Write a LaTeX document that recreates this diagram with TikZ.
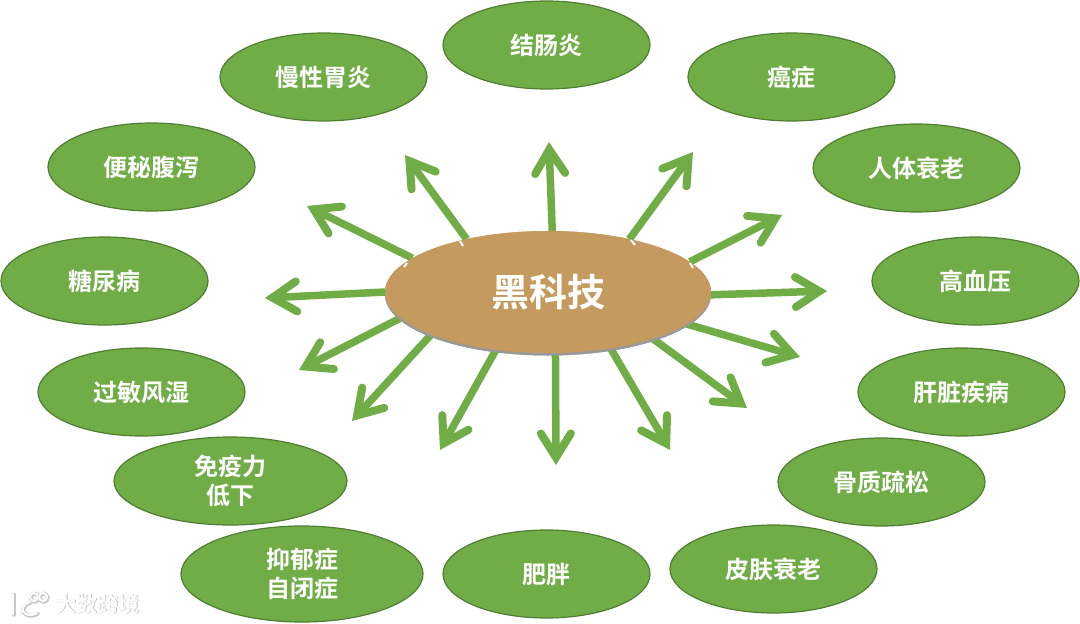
\documentclass[tikz,border=0pt]{standalone}
\usepackage{fontspec}
\setmainfont{Noto Sans CJK SC}[BoldFont={* Bold}]
\newfontfamily\cjkb{Noto Sans CJK SC Bold}
\usetikzlibrary{shapes.geometric,arrows.meta,shadows}
\definecolor{leaf}{HTML}{70AD47}
\definecolor{leafedge}{HTML}{507E32}
\definecolor{hubfill}{HTML}{C49A5F}
\tikzset{
  topic/.style={ellipse,draw=leafedge,line width=1.2pt,fill=leaf,inner sep=0pt,outer sep=0pt,
    minimum width=207pt,minimum height=88pt,text=white,font=\cjkb\fontsize{24}{29}\selectfont,align=center},
  hubnode/.style={ellipse,fill=hubfill,inner sep=0pt,outer sep=0pt,minimum width=326pt,minimum height=122pt,
    text=white,font=\cjkb\fontsize{38}{44}\selectfont,
    general shadow={shadow xshift=0pt,shadow yshift=-2.5pt,fill=black!40}},
  ray/.style={draw=leaf,line width=7.5pt,-{Straight Barb[length=24pt,width=30pt,line width=8pt,line cap=round,line join=miter]}},
  notch/.style={draw=white,line width=2pt},
  wmline/.style={line cap=round}
}
\begin{document}
\begin{tikzpicture}[x=1pt,y=-1pt]
\useasboundingbox (0,0) rectangle (1080,624);
\fill[white] (0,0) rectangle (1080,624);
\coordinate (t1) at (549,142);
\coordinate (t2) at (405,155);
\coordinate (t3) at (693,152);
\coordinate (t4) at (782,215);
\coordinate (t5) at (827,291);
\coordinate (t6) at (800,357);
\coordinate (t7) at (747,408);
\coordinate (t8) at (670,450);
\coordinate (t9) at (556,465);
\coordinate (t10) at (440,450);
\coordinate (t11) at (352,421);
\coordinate (t12) at (299,370);
\coordinate (t13) at (265,298);
\coordinate (t14) at (307,206);
\node[hubnode] (hub) at (548,292) {};
\draw[ray] (hub.86) -- (t1);
\draw[ray] (hub.147.6) -- (t2);
\draw[ray] (hub.33.5) -- (t3);
\draw[ray] (hub.12) -- (t4);
\draw[ray] (hub.-1) -- (t5);
\draw[ray] (hub.-13) -- (t6);
\draw[ray] (hub.-24.4) -- (t7);
\draw[ray] (hub.-42) -- (t8);
\draw[ray] (hub.-83) -- (t9);
\draw[ray] (hub.-132) -- (t10);
\draw[ray] (hub.-160.3) -- (t11);
\draw[ray] (hub.-170) -- (t12);
\draw[ray] (hub.180) -- (t13);
\draw[ray] (hub.166) -- (t14);
\node[hubnode] (hubtop) at (548,292) {黑科技};
\draw[notch] (460,241) -- (463,246);
\draw[notch] (631,240) -- (635,245);
\draw[notch] (690,263) -- (693,268);
\draw[notch] (407,263) -- (404,267);
\node[topic] (n1) at (546.5,45) {结肠炎};
\node[topic] (n2) at (323.5,77) {慢性胃炎};
\node[topic] (n3) at (791.5,77) {癌症};
\node[topic] (n4) at (151.5,167) {便秘腹泻};
\node[topic] (n5) at (916.5,168) {人体衰老};
\node[topic] (n6) at (104.5,281) {糖尿病};
\node[topic] (n7) at (975.5,281) {高血压};
\node[topic] (n8) at (141.5,392) {过敏风湿};
\node[topic] (n9) at (961.5,392) {肝脏疾病};
\node[topic,minimum width=233pt] (n10) at (230.5,481) {免疫力\\低下};
\node[topic] (n11) at (881.5,482) {骨质疏松};
\node[topic,minimum width=242pt,minimum height=96pt] (n12) at (302,574) {抑郁症\\自闭症};
\node[topic] (n13) at (546.5,574) {肥胖};
\node[topic] (n14) at (773.5,569) {皮肤衰老};
% watermark
\foreach \lw/\col/\off in {4/black!22/0.7,2/white/0}{
\begin{scope}[shift={(\off,\off)},draw=\col,line width=\lw pt,wmline]
\draw (13,594) -- (13,614);
\draw (30,602) .. controls (22,604) and (20,611) .. (26,614) .. controls (30,616) and (34,615) .. (37,613);
\draw (34,597) circle[x radius=4pt,y radius=4pt];
\draw (43,597) circle[x radius=4pt,y radius=4pt];
\end{scope}}
\node[text=black!25,inner sep=0pt,font=\cjkb\fontsize{21}{24}\selectfont] (wmshade) at (98.8,604.8) {大数跨境};
\node[text=white,inner sep=0pt,font=\cjkb\fontsize{21}{24}\selectfont] (wm) at (98,604) {大数跨境};
\end{tikzpicture}
\end{document}
